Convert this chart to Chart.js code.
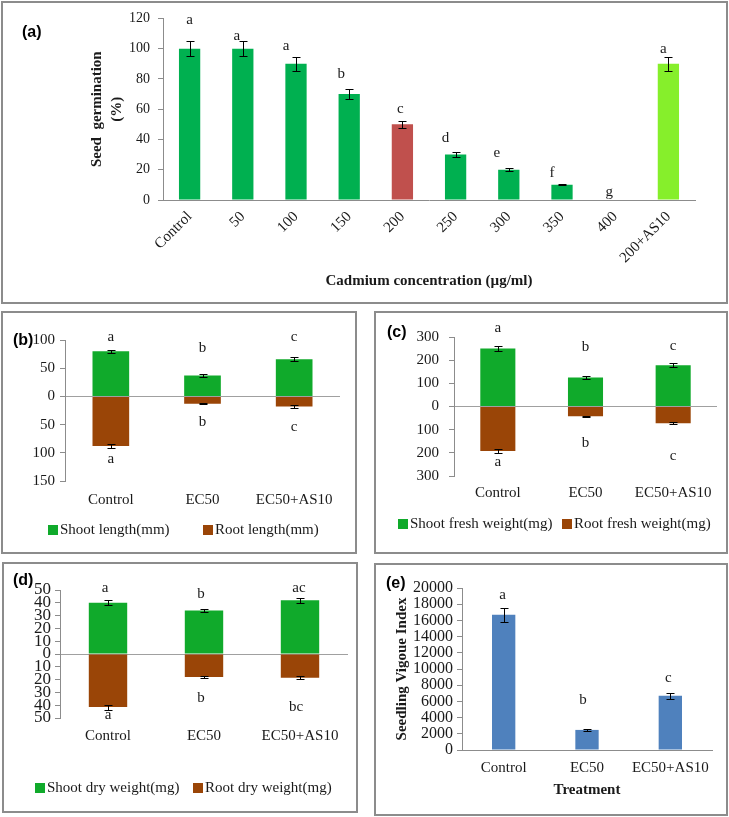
<!DOCTYPE html>
<html>
<head>
<meta charset="utf-8">
<script src="https://cdn.jsdelivr.net/npm/chart.js@4.4.1/dist/chart.umd.min.js"></script>
<style>
  body { margin: 0; background: #fff; width: 729px; height: 817px; position: relative; overflow: hidden; }
  .box { position: absolute; border: 2px solid #8c8c8c; box-sizing: border-box; }
  canvas { position: absolute; }
  .tag { position: absolute; font: bold 16px "Liberation Sans", Arial, sans-serif; line-height: 18px; color: #000; }
</style>
</head>
<body>
<div class="box" style="left:1px;top:1px;width:727px;height:303px"></div>
<div class="box" style="left:1px;top:311px;width:356px;height:243px"></div>
<div class="box" style="left:374px;top:311px;width:354px;height:243px"></div>
<div class="box" style="left:2px;top:562px;width:356px;height:251px"></div>
<div class="box" style="left:374px;top:563px;width:354px;height:253px"></div>

<canvas id="chartA" width="725" height="301" style="left:2px;top:2px;width:725px;height:301px"></canvas>
<canvas id="chartB" width="354" height="241" style="left:2px;top:312px;width:354px;height:241px"></canvas>
<canvas id="chartC" width="352" height="241" style="left:375px;top:312px;width:352px;height:241px"></canvas>
<canvas id="chartD" width="354" height="249" style="left:3px;top:563px;width:354px;height:249px"></canvas>
<canvas id="chartE" width="352" height="251" style="left:375px;top:564px;width:352px;height:251px"></canvas>

<div class="tag" style="left:22px;top:23px">(a)</div>
<div class="tag" style="left:13px;top:331px">(b)</div>
<div class="tag" style="left:387px;top:323px">(c)</div>
<div class="tag" style="left:13px;top:571px">(d)</div>
<div class="tag" style="left:386px;top:574px">(e)</div>

<script>
// (a) seed germination
const germLabels = ['Control', '50', '100', '150', '200', '250', '300', '350', '400', '200+AS10'];
const germValues = [100, 100, 90, 70, 50, 30, 20, 10, 0, 90];
const germErrors = [5, 5, 4.5, 3.5, 2.5, 1.5, 1, 0.3, 0, 4.5];
const germLetters = ['a', 'a', 'a', 'b', 'c', 'd', 'e', 'f', 'g', 'a'];
const germLetterAt = [119, 108, 102, 83, 60, 41, 31, 17.5, 5, 100];
const germTicks = [0, 120, 20];

// (b)-(e) treatments
const treatments = ['Control', 'EC50', 'EC50+AS10'];

const shootLength = [80, 37, 66];
const shootLengthErr = [3, 2, 3];
const rootLength = [88, 13, 18];
const rootLengthErr = [4, 1, 2];
const lengthTopLetters = ['a', 'b', 'c'];
const lengthTopAt = [105, 86, 105];
const lengthBottomLetters = ['a', 'b', 'c'];
const lengthBottomAt = [-111, -46, -54];
const lengthTicks = [-150, 100, 50];

const shootFresh = [250, 125, 178];
const shootFreshErr = [12, 7, 9];
const rootFresh = [192, 42, 72];
const rootFreshErr = [10, 3, 3];
const freshTopLetters = ['a', 'b', 'c'];
const freshTopAt = [339, 257, 261];
const freshBottomLetters = ['a', 'b', 'c'];
const freshBottomAt = [-240, -158, -214];
const freshTicks = [-300, 300, 100];

const shootDry = [40, 34, 42];
const shootDryErr = [2, 1.5, 2];
const rootDry = [41.5, 18, 18.5];
const rootDryErr = [2, 1, 1];
const dryTopLetters = ['a', 'b', 'ac'];
const dryTopAt = [51.6, 46.9, 51.6];
const dryBottomLetters = ['a', 'b', 'bc'];
const dryBottomAt = [-48, -34.4, -41.4];
const dryTicks = [-50, 50, 10];

const vigour = [16700, 2480, 6700];
const vigourErr = [850, 150, 350];
const vigourLetters = ['a', 'b', 'c'];
const vigourLetterAt = [19100, 6200, 8900];
const vigourTicks = [0, 20000, 2000];

const green = '#00b050', red = '#c0504d', lime = '#86ef2b';
const shootGreen = '#10aa2b', rootBrown = '#9a4507', blue = '#4f81bd';
const axisGray = '#8c8c8c', ink = '#1a1a1a';
const serif = '"Liberation Serif", "Times New Roman", serif';

Chart.defaults.font.family = serif;
Chart.defaults.color = ink;

const errorBars = {
  id: 'errorBars',
  afterDatasetsDraw(chart, args, opts) {
    const { ctx } = chart;
    const ys = chart.scales.y;
    ctx.save();
    ctx.strokeStyle = '#000';
    ctx.lineWidth = 1;
    opts.errors.forEach((errs, di) => {
      chart.getDatasetMeta(di).data.forEach((bar, i) => {
        const v = chart.data.datasets[di].data[i];
        const e = errs[i];
        if (!e) return;
        const x = Math.round(bar.x) + 0.5;
        const top = Math.round(ys.getPixelForValue(v + e)) + 0.5;
        const bot = Math.round(ys.getPixelForValue(v - e)) + 0.5;
        ctx.beginPath();
        ctx.moveTo(x, top); ctx.lineTo(x, bot);
        ctx.moveTo(x - opts.cap, top); ctx.lineTo(x + opts.cap, top);
        ctx.moveTo(x - opts.cap, bot); ctx.lineTo(x + opts.cap, bot);
        ctx.stroke();
      });
    });
    ctx.restore();
  }
};

const letterMarks = {
  id: 'letterMarks',
  afterDatasetsDraw(chart, args, opts) {
    const { ctx } = chart;
    const xs = chart.scales.x, ys = chart.scales.y;
    ctx.save();
    ctx.font = '15px ' + serif;
    ctx.fillStyle = ink;
    ctx.textAlign = 'center';
    ctx.textBaseline = 'middle';
    opts.rows.forEach(row => {
      row.text.forEach((t, i) => {
        const dx = row.dx ? row.dx[i] : 0;
        ctx.fillText(t, xs.getPixelForValue(i) + dx, ys.getPixelForValue(row.at[i]));
      });
    });
    ctx.restore();
  }
};

// legend in the Excel style: small square, text right after it
const boxLegend = {
  id: 'boxLegend',
  afterDraw(chart, args, opts) {
    const { ctx } = chart;
    ctx.save();
    ctx.font = '15px ' + serif;
    ctx.textAlign = 'left';
    ctx.textBaseline = 'middle';
    chart.data.datasets.forEach((ds, i) => {
      const x = opts.x[i];
      ctx.fillStyle = ds.backgroundColor;
      ctx.fillRect(x, opts.y - 5, 10, 10);
      ctx.fillStyle = ink;
      ctx.fillText(ds.label, x + 12, opts.y);
    });
    ctx.restore();
  }
};

// (a)
new Chart(document.getElementById('chartA'), {
  type: 'bar',
  data: {
    labels: germLabels,
    datasets: [{
      data: germValues,
      backgroundColor: germLabels.map(l => l === '200' ? red : l === '200+AS10' ? lime : green),
      barPercentage: 0.4,
      categoryPercentage: 1
    }]
  },
  options: {
    responsive: false,
    animation: false,
    layout: { padding: { left: 0, top: 13, right: 32, bottom: 0 } },
    plugins: {
      legend: { display: false },
      tooltip: { enabled: false },
      errorBars: { errors: [germErrors], cap: 4 },
      letterMarks: { rows: [{ text: germLetters, at: germLetterAt, dx: [0, -6, -10, -8, -2, -10, -12, -10, -6, -5] }] }
    },
    scales: {
      x: {
        grid: { display: false, drawTicks: false },
        border: { color: axisGray },
        ticks: { font: { size: 15 }, minRotation: 45, maxRotation: 45, padding: 8, autoSkip: false },
        title: {
          display: true,
          text: 'Cadmium concentration (µg/ml)',
          font: { size: 15, weight: 'bold' },
          padding: { top: 0, bottom: 13 }
        },
        afterFit: s => { s.height = 103; }
      },
      y: {
        min: germTicks[0],
        max: germTicks[1],
        ticks: { stepSize: germTicks[2], font: { size: 14 }, padding: 8, autoSkip: false },
        grid: { drawOnChartArea: false, drawTicks: true, tickLength: 5, color: axisGray },
        border: { color: axisGray },
        title: {
          display: true,
          text: ['Seed  germination', '(%)'],
          font: { size: 15, weight: 'bold', lineHeight: '20px' },
          padding: { top: 85, bottom: 0 }
        },
        afterFit: s => { s.width = 161; }
      }
    }
  },
  plugins: [errorBars, letterMarks]
});

// (b), (c), (d): shoot above zero, root below zero
function stackedPanel(id, names, shoot, shootErr, root, rootErr, ticks, letterRows, lay) {
  return new Chart(document.getElementById(id), {
    type: 'bar',
    data: {
      labels: treatments,
      datasets: [
        { label: names[0], data: shoot, backgroundColor: shootGreen, stack: 's', barPercentage: 0.4, categoryPercentage: 1 },
        { label: names[1], data: root.map(v => -v), backgroundColor: rootBrown, stack: 's', barPercentage: 0.4, categoryPercentage: 1 }
      ]
    },
    options: {
      responsive: false,
      animation: false,
      layout: { padding: { left: 0, top: lay.padT, right: lay.padR, bottom: lay.padB } },
      plugins: {
        legend: { display: false },
        tooltip: { enabled: false },
        errorBars: { errors: [shootErr, rootErr], cap: 4 },
        letterMarks: { rows: letterRows },
        boxLegend: { x: lay.legX, y: lay.legY }
      },
      scales: {
        x: {
          stacked: true,
          grid: { display: false, drawTicks: false },
          border: { display: false },
          ticks: { font: { size: 15 }, padding: lay.xPad, color: ink },
          afterFit: s => { s.height = lay.xH; }
        },
        y: {
          stacked: true,
          min: ticks[0],
          max: ticks[1],
          ticks: { stepSize: ticks[2], font: { size: lay.tickSize }, padding: lay.yPad, autoSkip: false, callback: v => Math.abs(v) },
          grid: {
            color: c => (c.tick && c.tick.value === 0 ? '#a0a0a0' : 'rgba(0,0,0,0)'),
            tickColor: axisGray,
            tickLength: 5
          },
          border: { color: axisGray },
          afterFit: s => { s.width = lay.yW; }
        }
      }
    },
    plugins: [errorBars, letterMarks, boxLegend]
  });
}

stackedPanel('chartB', ['Shoot length(mm)', 'Root length(mm)'],
  shootLength, shootLengthErr, rootLength, rootLengthErr, lengthTicks,
  [{ text: lengthTopLetters, at: lengthTopAt }, { text: lengthBottomLetters, at: lengthBottomAt }],
  { padT: 28, padR: 16, padB: 42, yW: 63, xH: 30, xPad: 10, tickSize: 15, yPad: 5, legX: [46, 201], legY: 218 });

stackedPanel('chartC', ['Shoot fresh weight(mg)', 'Root fresh weight(mg)'],
  shootFresh, shootFreshErr, rootFresh, rootFreshErr, freshTicks,
  [{ text: freshTopLetters, at: freshTopAt }, { text: freshBottomLetters, at: freshBottomAt }],
  { padT: 25, padR: 10, padB: 40.5, yW: 79, xH: 36.5, xPad: 8, tickSize: 15, yPad: 10, legX: [23, 187], legY: 212 });

stackedPanel('chartD', ['Shoot dry weight(mg)', 'Root dry weight(mg)'],
  shootDry, shootDryErr, rootDry, rootDryErr, dryTicks,
  [{ text: dryTopLetters, at: dryTopAt, dx: [-3, -3, -1] }, { text: dryBottomLetters, at: dryBottomAt, dx: [0, -3, -4] }],
  { padT: 27, padR: 9, padB: 40, yW: 57, xH: 54, xPad: 9, tickSize: 17, yPad: 4, legX: [32, 190], legY: 225 });

// (e)
new Chart(document.getElementById('chartE'), {
  type: 'bar',
  data: {
    labels: treatments,
    datasets: [{ data: vigour, backgroundColor: blue, barPercentage: 0.28, categoryPercentage: 1 }]
  },
  options: {
    responsive: false,
    animation: false,
    layout: { padding: { left: 0, top: 24, right: 15, bottom: 0 } },
    plugins: {
      legend: { display: false },
      tooltip: { enabled: false },
      errorBars: { errors: [vigourErr], cap: 4 },
      letterMarks: { rows: [{ text: vigourLetters, at: vigourLetterAt, dx: [-1, -4, -2] }] }
    },
    scales: {
      x: {
        grid: { display: false, drawTicks: false },
        border: { color: axisGray },
        ticks: { font: { size: 15 }, padding: 9 },
        title: { display: true, text: 'Treatment', font: { size: 15, weight: 'bold' }, padding: { top: 0, bottom: 16 } },
        afterFit: s => { s.height = 65; }
      },
      y: {
        min: vigourTicks[0],
        max: vigourTicks[1],
        ticks: { stepSize: vigourTicks[2], font: { size: 16 }, padding: 4, autoSkip: false, callback: v => String(v) },
        grid: { drawOnChartArea: false, drawTicks: true, tickLength: 5, color: axisGray },
        border: { color: axisGray },
        title: {
          display: true,
          text: 'Seedling Vigoue Index',
          font: { size: 15, weight: 'bold', lineHeight: '18px' },
          padding: { top: 18, bottom: 0 }
        },
        afterFit: s => { s.width = 87; }
      }
    }
  },
  plugins: [errorBars, letterMarks]
});
</script>
</body>
</html>
